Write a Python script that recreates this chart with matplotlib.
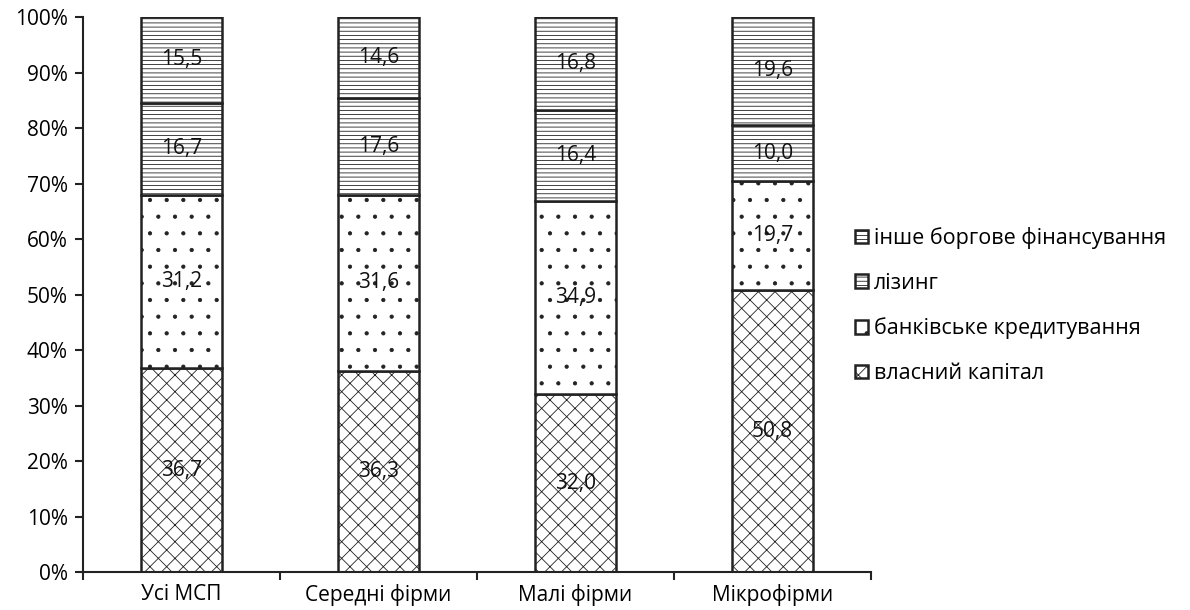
import numpy as np
import matplotlib.pyplot as plt

plt.rcParams['font.family'] = ['Open Sans', 'DejaVu Sans']
plt.rcParams['hatch.linewidth'] = 0.6
plt.rcParams['hatch.color'] = '#222222'

# Дані
categories = ['Усі МСП', 'Середні фірми', 'Малі фірми', 'Мікрофірми']
series_names = ['власний капітал', 'банківське кредитування', 'лізинг',
                'інше боргове фінансування']
equity = [36.7, 36.3, 32.0, 50.8]
bank = [31.2, 31.6, 34.9, 19.7]
leasing = [16.7, 17.6, 16.4, 10.0]
other_debt = [15.5, 14.6, 16.8, 19.6]

series = [equity, bank, leasing, other_debt]
hatches = ['xx', '.', '----', '----']

fig = plt.figure(figsize=(11.9, 6.1), dpi=100)
ax = fig.add_axes([0.0697, 0.0623, 0.6622, 0.9097])

x = np.arange(len(categories))
bottom = np.zeros(len(categories))
handles = []
for vals, name, h in zip(series, series_names, hatches):
    bars = ax.bar(x, vals, 0.41, bottom=bottom, color='white', edgecolor='#222222',
                  linewidth=1.8, hatch=h, label=name)
    handles.append(bars)
    for xi, b, v in zip(x, bottom, vals):
        ax.text(xi, b + v / 2, f'{v:.1f}'.replace('.', ','), ha='center', va='center',
                fontsize=15, color='#111111')
    bottom += np.array(vals)

ax.set_xlim(-0.5, 3.5)
ax.set_ylim(0, 100)
ax.set_yticks(np.arange(0, 101, 10))
ax.set_yticklabels([f'{v}%' for v in range(0, 101, 10)], fontsize=15)
ax.set_xticks(x)
ax.set_xticklabels(categories, fontsize=15)
ax.set_xticks(np.arange(-0.5, 3.6, 1), minor=True)
ax.tick_params(axis='x', which='major', length=0, pad=9)
ax.tick_params(axis='x', which='minor', length=6, width=1.5, color='#222222')
ax.tick_params(axis='y', length=6, width=1.5, color='#222222', pad=5)
for s in ['top', 'right']:
    ax.spines[s].set_visible(False)
for s in ['left', 'bottom']:
    ax.spines[s].set_linewidth(1.5)
    ax.spines[s].set_color('#222222')

leg = ax.legend(handles[::-1], series_names[::-1], loc='center left',
                bbox_to_anchor=(0.955, 0.48), frameon=False, fontsize=15.5,
                handlelength=0.6, handleheight=0.6, handletextpad=0.3,
                labelspacing=1.1)

fig.savefig('out.png', dpi=100)
